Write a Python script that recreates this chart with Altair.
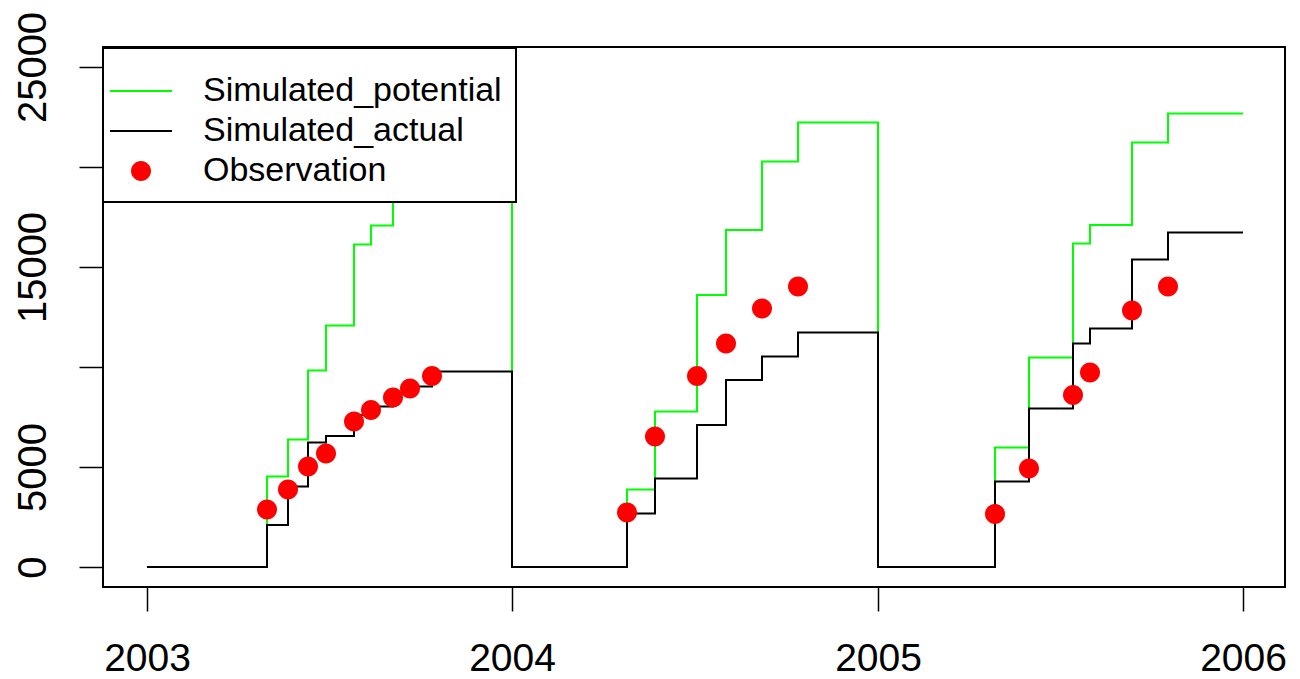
import altair as alt
import pandas as pd

# ---- data ----
step_dates = [
    "2003-01-01", "2003-05-01", "2003-05-22", "2003-06-11", "2003-06-29", "2003-07-27",
    "2003-08-13", "2003-09-04", "2003-09-21", "2003-10-13",
    "2004-01-01", "2004-04-25", "2004-05-23", "2004-07-04", "2004-08-02", "2004-09-07", "2004-10-13",
    "2005-01-01", "2005-04-28", "2005-06-01", "2005-07-15", "2005-08-01", "2005-09-12", "2005-10-18",
    "2006-01-01",
]
simulated_potential = [
    0, 4520, 6380, 9820, 12070, 16130, 17080, 19300, 20300, 21270,
    0, 3880, 7770, 13600, 16850, 20270, 22220,
    0, 5970, 10470, 16180, 17100, 21220, 22680,
    22680,
]
simulated_actual = [
    0, 2100, 4020, 6230, 6550, 7600, 8020, 8700, 9020, 9770,
    0, 2680, 4430, 7100, 9350, 10520, 11720,
    0, 4270, 7930, 11180, 11930, 15380, 16720,
    16720,
]
obs_dates = [
    "2003-05-01", "2003-05-22", "2003-06-11", "2003-06-29", "2003-07-27",
    "2003-08-13", "2003-09-04", "2003-09-21", "2003-10-13",
    "2004-04-25", "2004-05-23", "2004-07-04", "2004-08-02", "2004-09-07", "2004-10-13",
    "2005-04-28", "2005-06-01", "2005-07-15", "2005-08-01", "2005-09-12", "2005-10-18",
]
observation = [
    2880, 3880, 5020, 5680, 7270, 7850, 8470, 8930, 9550,
    2720, 6520, 9550, 11180, 12930, 14020,
    2650, 4930, 8600, 9720, 12820, 14020,
]
series_names = ["Simulated_potential", "Simulated_actual", "Observation"]
series_colors = ["#00ff00", "#000000", "#ff0000"]
year_ticks = [2003, 2004, 2005, 2006]
y_ticks = [0, 5000, 10000, 15000, 20000, 25000]

# symbol shapes (unit square paths, scaled by sqrt(size)/2): long thin bar for lines, dot for observations
LINE_SYM = "M-3.1,-0.1H3.1V0.1H-3.1Z"
DOT_SYM = "M-1,0A1,1 0 1,0 1,0A1,1 0 1,0 -1,0Z"
series_shapes = [LINE_SYM, LINE_SYM, DOT_SYM]

pot_df = pd.DataFrame({"date": step_dates, "value": simulated_potential})
act_df = pd.DataFrame({"date": step_dates, "value": simulated_actual})
obs_df = pd.DataFrame({"date": obs_dates, "value": observation, "series": series_names[2]})

FONT = "Liberation Sans"

x_enc = alt.X(
    "date:T",
    scale=alt.Scale(
        type="utc",
        domain=[alt.DateTime(year=2002, month=11, date=18, utc=True),
                alt.DateTime(year=2006, month=2, date=12, utc=True)],
    ),
    axis=alt.Axis(
        title=None,
        values=[alt.DateTime(year=y, month=1, date=1, utc=True) for y in year_ticks],
        labelExpr="utcFormat(datum.value, '%Y')",
        domain=False, grid=False,
        tickSize=24, tickWidth=1.5, tickColor="black",
        labelFontSize=39, labelFont=FONT, labelColor="black",
        labelPadding=28, labelFlush=False, labelOverlap=False,
    ),
)
y_enc = alt.Y(
    "value:Q",
    scale=alt.Scale(domain=[-1000, 26000], nice=False, zero=False),
    axis=alt.Axis(
        title=None,
        values=y_ticks,
        labelExpr="(datum.value == 10000 || datum.value == 20000) ? '' : format(datum.value, 'd')",
        domain=False, grid=False,
        tickSize=24, tickWidth=1.5, tickColor="black",
        labelFontSize=40, labelFont=FONT, labelColor="black",
        labelAngle=270, labelAlign="center", labelBaseline="alphabetic",
        labelPadding=34, labelOverlap=False,
    ),
)

legend = alt.Legend(
    title=" ", titleFontSize=1, titlePadding=11,
    orient="none", legendX=0, legendY=1, direction="vertical",
    symbolSize=400, symbolStrokeWidth=0, symbolOffset=7,
    labelFontSize=34, labelFont=FONT, labelColor="black", labelLimit=0,
    labelOffset=45, padding=14, rowPadding=6,
    strokeColor="black", fillColor="white",
)

pot_line = alt.Chart(pot_df).mark_line(interpolate="step-after", strokeWidth=2, color=series_colors[0]).encode(
    x=x_enc, y=y_enc)
act_line = alt.Chart(act_df).mark_line(interpolate="step-after", strokeWidth=2, color=series_colors[1]).encode(
    x=x_enc, y=y_enc)
obs_pts = alt.Chart(obs_df).mark_point(filled=True, size=400, opacity=1, strokeWidth=0).encode(
    x=x_enc, y=y_enc,
    color=alt.Color("series:N", scale=alt.Scale(domain=series_names, range=series_colors), legend=legend),
    shape=alt.Shape("series:N", scale=alt.Scale(domain=series_names, range=series_shapes), legend=legend),
)

chart = (
    alt.layer(pot_line, act_line, obs_pts)
    .properties(
        width=1182, height=540,
        autosize=alt.AutoSizeParams(type="none"),
        padding={"left": 95, "top": 39, "right": 7, "bottom": 92},
        background="white",
    )
    .configure(font=FONT)
    .configure_view(stroke="black", strokeWidth=2)
    .configure_legend(strokeWidth=2)
)

chart.save("out.html", embed_options={"renderer": "svg", "actions": False})
